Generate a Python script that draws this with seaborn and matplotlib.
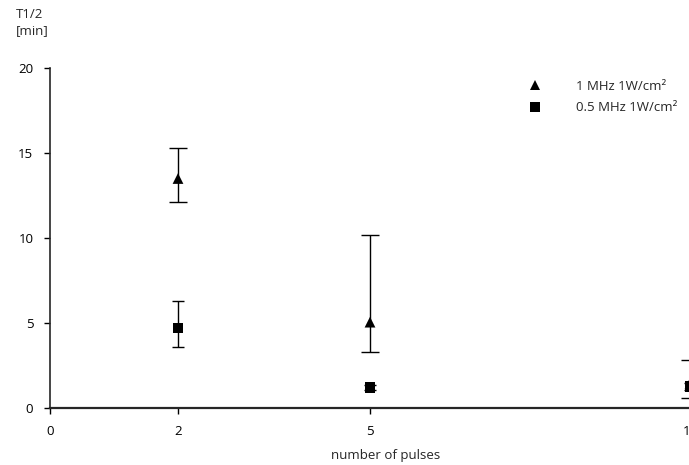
import numpy as np
import pandas as pd
import seaborn as sns
import matplotlib.pyplot as plt

# values
pulses = [2, 5, 10]
t_1mhz = [13.5, 5.05, 1.45]
err_1mhz_low = [1.4, 1.75, 0.85]
err_1mhz_high = [1.8, 5.15, 1.35]
t_05mhz = [4.7, 1.2, 1.25]
err_05mhz_low = [1.1, 0.15, 0.2]
err_05mhz_high = [1.6, 0.15, 0.2]
labels = ["1 MHz 1W/cm²", "0.5 MHz 1W/cm²"]

df = pd.DataFrame({
    "pulses": pulses * 2,
    "t": t_1mhz + t_05mhz,
    "series": [labels[0]] * 3 + [labels[1]] * 3,
})

sns.set_style("ticks")
plt.rcParams["font.family"] = ["Open Sans", "DejaVu Sans"]
plt.rcParams["font.size"] = 9.5

fig = plt.figure(figsize=(6.89, 4.65), dpi=100)
ax = fig.add_axes([50 / 689, 57 / 465, 10.5 * 64 / 689, 340 / 465])

ax.errorbar(pulses, t_1mhz, yerr=[err_1mhz_low, err_1mhz_high], fmt="none",
            ecolor="black", elinewidth=1, capsize=6.5, capthick=1, zorder=1)
ax.errorbar(pulses, t_05mhz, yerr=[err_05mhz_low, err_05mhz_high], fmt="none",
            ecolor="black", elinewidth=1, capsize=4, capthick=1, zorder=1)
sns.scatterplot(data=df, x="pulses", y="t", style="series", hue="series",
                markers={labels[0]: "^", labels[1]: "s"},
                palette={labels[0]: "black", labels[1]: "black"},
                s=60, edgecolor="black", linewidth=0, ax=ax, zorder=2)

ax.set_xlim(0, 10.5)
ax.set_ylim(0, 20)
ax.set_xticks([0, 2, 5, 10])
ax.set_yticks([0, 5, 10, 15, 20])
ax.tick_params(direction="out", length=4, width=1, colors="black", pad=8)
for s in ["top", "right"]:
    ax.spines[s].set_visible(False)
ax.spines["left"].set_linewidth(1.2)
ax.spines["bottom"].set_linewidth(1.6)

ax.set_xlabel("number of pulses", fontsize=9.5, labelpad=8)
ax.set_ylabel("")
fig.text(16 / 689, 1 - 8 / 465, "T1/2\n[min]", ha="left", va="top", fontsize=9.5,
         linespacing=1.35)

ax.legend(loc="upper left", bbox_to_anchor=(0.684, 1.0), frameon=False,
          fontsize=9.5, handletextpad=2.1, labelspacing=0.65, title=None)

fig.savefig("out.png", dpi=100)
